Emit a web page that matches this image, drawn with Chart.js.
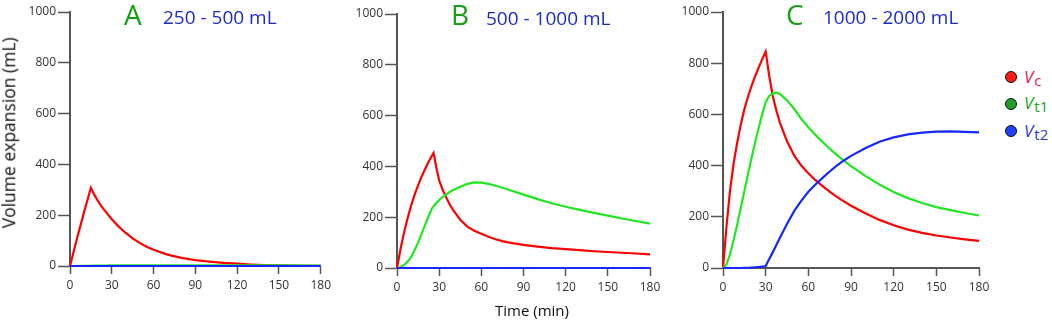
<!DOCTYPE html>
<html>
<head>
<meta charset="utf-8">
<script src="https://cdn.jsdelivr.net/npm/chart.js@4.4.1/dist/chart.umd.min.js"></script>
<style>
html,body{margin:0;padding:0;background:#fff;}
#wrap{position:relative;width:1052px;height:322px;overflow:hidden;font-family:"Open Sans",sans-serif;}
canvas{position:absolute;top:0;}
.t{position:absolute;white-space:nowrap;line-height:1;}
.dot{position:absolute;width:10px;height:10px;border-radius:50%;border:1.5px solid #111;}
.leg{position:absolute;white-space:nowrap;line-height:1;font-size:17px;font-style:italic;}
.leg span{font-style:normal;font-size:15px;position:relative;top:3px;margin-left:1px;}
</style>
</head>
<body>
<div id="wrap">
  <canvas id="cA" width="335" height="322" style="left:0px"></canvas>
  <canvas id="cB" width="330" height="322" style="left:335px"></canvas>
  <canvas id="cC" width="335" height="322" style="left:665px"></canvas>

  <div class="t" style="left:-111px;top:124px;width:240px;height:17.5px;font-size:17.5px;text-align:center;color:#111;transform:rotate(-90deg);">Volume expansion (mL)</div>
  <div class="t" style="left:432px;top:302.7px;width:200px;font-size:15px;text-align:center;color:#111;">Time (min)</div>

  <div class="t" style="left:124px;top:0px;font-size:28px;color:#16a016;">A</div>
  <div class="t" style="left:163px;top:8.1px;font-size:19px;color:#1c2bc8;">250 - 500 mL</div>
  <div class="t" style="left:451px;top:0px;font-size:28px;color:#16a016;">B</div>
  <div class="t" style="left:486px;top:8.6px;font-size:19px;color:#1c2bc8;">500 - 1000 mL</div>
  <div class="t" style="left:786px;top:0px;font-size:28px;color:#16a016;">C</div>
  <div class="t" style="left:823px;top:8.1px;font-size:19px;color:#1c2bc8;">1000 - 2000 mL</div>

  <div class="dot" style="left:1005px;top:71px;background:#ff1a1a;"></div>
  <div class="leg" style="left:1024px;top:67.6px;color:#d81b5a;">V<span>c</span></div>
  <div class="dot" style="left:1005px;top:97.5px;background:#1f9f2a;"></div>
  <div class="leg" style="left:1024px;top:94.2px;color:#1e9e1e;">V<span>t1</span></div>
  <div class="dot" style="left:1005px;top:125px;background:#1f3fff;"></div>
  <div class="leg" style="left:1024px;top:121.6px;color:#2a3ac8;">V<span>t2</span></div>
</div>
<script>
// ---- data ----
const xTicks = [0, 30, 60, 90, 120, 150, 180];
const yTicks = [0, 200, 400, 600, 800, 1000];
const seriesNames = ['Vc', 'Vt1', 'Vt2'];

// Panel A: 250 - 500 mL
const timeA = [0,5,10,15,17.5,20,22.5,25,30,35,40,45,50,55,60,70,80,90,100,110,120,130,140,150,160,170,180];
const vcA   = [0,108,210,308,280,256,236,218,184,155,130,109,91,76,64,45,32,23,17,12,9,6,4,3,2,1,1];
const vt1A  = [0,0,1,1,2,2,2,2,3,3,3,3,3,3,3,3,3,3,3,3,3,3,3,3,3,2,2];
const vt2A  = [0,0,0,0,0,0,0,0,0,0,0,0,0,0,0,0,0,0,0,0,0,0,0,0,0,0,0];

// Panel B: 500 - 1000 mL
const timeB = [0,2.5,5,7.5,10,12.5,15,17.5,20,22.5,25,26,28,30,32.5,35,37.5,40,45,50,55,60,65,70,75,80,90,100,110,120,130,140,150,160,170,180];
const vcB   = [0,75,140,195,245,288,325,360,390,418,444,453,395,345,308,278,250,228,190,163,147,135,123,113,106,100,91,84,78,74,70,66,63,60,57,54];
const vt1B  = [0,3,12,25,43,70,100,135,170,205,236,242,256,268,280,290,299,307,320,331,337,336,331,324,316,307,289,271,255,241,229,217,206,195,185,175];
const vt2B  = [0,0,0,0,0,0,0,0,0,0,0,0,0,0,0,0,0,0,0,0,0,0,0,0,0,0,0,0,0,0,0,0,0,0,0,0];

// Panel C: 1000 - 2000 mL
const timeC = [0,2.5,5,7.5,10,12.5,15,17.5,20,22.5,25,27.5,30,32.5,35,37.5,40,45,50,55,60,65,70,75,80,85,90,100,110,120,130,140,150,160,170,180];
const vcC   = [0,165,305,410,490,560,620,668,710,748,782,815,845,750,672,615,568,495,440,400,370,343,320,298,278,260,243,214,188,167,150,137,127,119,112,106];
const vt1C  = [0,15,55,110,170,235,300,365,428,488,545,600,648,672,683,685,680,655,622,583,550,520,492,466,442,419,398,360,326,297,273,254,238,226,215,205];
const vt2C  = [0,0,0,0,0,0,1,1,2,3,4,5,8,35,62,90,118,172,222,262,298,326,352,377,400,420,438,468,493,510,522,529,533,534,532,530];

// ---- styles ----
const RED = '#ff0000', GREEN = '#22e622', BLUE = '#1428ff';
const AX = '#555555', TK = '#333333';

function panel(id, t, vc, vt1, vt2, yW, padR, padT, bottom) {
  const pts = arr => arr.map((v, i) => ({x: t[i], y: v}));
  const tickFont = {family: '"Open Sans", sans-serif', size: 12};
  new Chart(document.getElementById(id), {
    type: 'line',
    data: {datasets: [
      {label: seriesNames[0], data: pts(vc),  borderColor: RED,   order: 2, clip: 4},
      {label: seriesNames[1], data: pts(vt1), borderColor: GREEN, order: 1, clip: 4},
      {label: seriesNames[2], data: pts(vt2), borderColor: BLUE,  order: 0, clip: 4}
    ]},
    options: {
      responsive: false, animation: false, devicePixelRatio: 1,
      layout: {padding: {top: padT, right: padR, left: 0, bottom: 0}},
      elements: {point: {radius: 0}, line: {borderWidth: 2.2, tension: 0, fill: false}},
      plugins: {legend: {display: false}, tooltip: {enabled: false}, title: {display: false}},
      scales: {
        x: {
          type: 'linear', min: 0, max: 180,
          afterBuildTicks: s => { s.ticks = xTicks.map(v => ({value: v})); },
          afterFit: s => { s.height = 322 - bottom; },
          grid: {drawOnChartArea: false, color: AX, tickColor: AX, tickWidth: 1.5, tickLength: 8},
          border: {color: AX, width: 2},
          ticks: {color: TK, font: tickFont, padding: 4, maxRotation: 0, autoSkip: false, callback: v => String(v)}
        },
        y: {
          type: 'linear', min: 0, max: 1000,
          afterBuildTicks: s => { s.ticks = yTicks.map(v => ({value: v})); },
          afterFit: s => { s.width = yW; },
          grid: {drawOnChartArea: false, color: AX, tickColor: AX, tickWidth: 1.5, tickLength: 12},
          border: {color: AX, width: 2},
          ticks: {color: TK, font: tickFont, padding: 2, autoSkip: false, callback: v => String(v)}
        }
      }
    }
  });
}

panel('cA', timeA, vcA, vt1A, vt2A, 70, 13, 12, 266);
panel('cB', timeB, vcB, vt1B, vt2B, 62, 15, 14, 268);
panel('cC', timeC, vcC, vt1C, vt2C, 58, 21, 12, 268);
</script>
</body>
</html>
